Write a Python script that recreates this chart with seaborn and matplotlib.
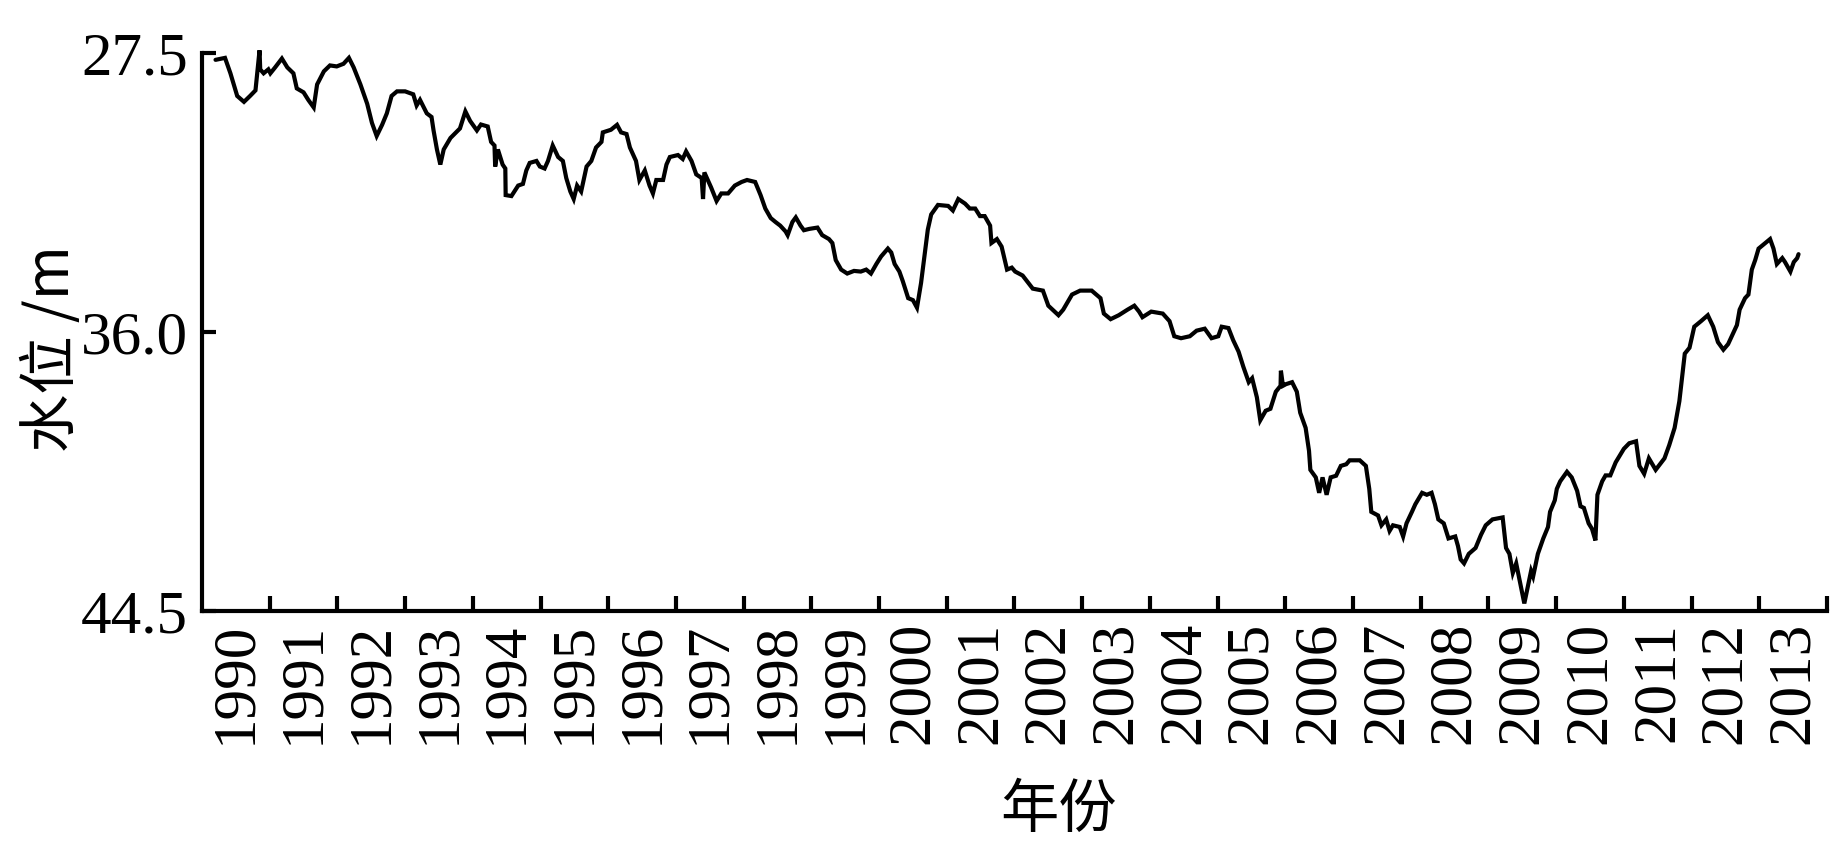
import matplotlib
matplotlib.use("Agg")
import matplotlib.pyplot as plt
import seaborn as sns
import pandas as pd

# ---- data ----
years = [
    1990.20, 1990.34, 1990.42, 1990.52, 1990.62, 1990.71, 1990.79, 1990.81, 1990.85, 1990.86,
    1990.91, 1990.98, 1991.01, 1991.08, 1991.18, 1991.26, 1991.35, 1991.40, 1991.50, 1991.57,
    1991.65, 1991.70, 1991.80, 1991.89, 1991.99, 1992.09, 1992.17, 1992.24, 1992.34, 1992.44,
    1992.51, 1992.58, 1992.66, 1992.73, 1992.80, 1992.88, 1993.00, 1993.12, 1993.17, 1993.22,
    1993.32, 1993.39, 1993.42, 1993.47, 1993.52, 1993.57, 1993.67, 1993.81, 1993.89, 1993.96,
    1994.06, 1994.12, 1994.22, 1994.27, 1994.32, 1994.33, 1994.37, 1994.44, 1994.48, 1994.485,
    1994.57, 1994.67, 1994.74, 1994.79, 1994.84, 1994.94, 1994.99, 1995.06, 1995.11, 1995.18,
    1995.26, 1995.33, 1995.38, 1995.44, 1995.49, 1995.54, 1995.60, 1995.68, 1995.75, 1995.82,
    1995.90, 1995.92, 1996.04, 1996.13, 1996.19, 1996.27, 1996.32, 1996.41, 1996.46, 1996.54,
    1996.61, 1996.66, 1996.71, 1996.81, 1996.86, 1996.91, 1997.03, 1997.10, 1997.15, 1997.23,
    1997.30, 1997.38, 1997.40, 1997.42, 1997.52, 1997.60, 1997.67, 1997.77, 1997.87, 1997.97,
    1998.05, 1998.17, 1998.25, 1998.32, 1998.40, 1998.47, 1998.54, 1998.62, 1998.65, 1998.72,
    1998.77, 1998.84, 1998.89, 1998.97, 1999.09, 1999.16, 1999.26, 1999.31, 1999.36, 1999.44,
    1999.53, 1999.63, 1999.73, 1999.81, 1999.88, 1999.96, 2000.03, 2000.13, 2000.18, 2000.23,
    2000.30, 2000.35, 2000.43, 2000.50, 2000.56, 2000.62, 2000.67, 2000.72, 2000.77, 2000.87,
    2001.02, 2001.09, 2001.17, 2001.27, 2001.34, 2001.42, 2001.49, 2001.56, 2001.64, 2001.66,
    2001.74, 2001.81, 2001.89, 2001.96, 2002.01, 2002.12, 2002.27, 2002.42, 2002.50, 2002.65,
    2002.72, 2002.85, 2002.97, 2003.14, 2003.27, 2003.32, 2003.42, 2003.54, 2003.67, 2003.77,
    2003.84, 2003.89, 2004.02, 2004.19, 2004.29, 2004.36, 2004.46, 2004.59, 2004.69, 2004.81,
    2004.91, 2005.01, 2005.06, 2005.16, 2005.23, 2005.31, 2005.38, 2005.46, 2005.51, 2005.58,
    2005.63, 2005.71, 2005.78, 2005.86, 2005.93, 2005.935, 2005.965, 2006.01, 2006.10, 2006.17,
    2006.22, 2006.30, 2006.35, 2006.37, 2006.45, 2006.50, 2006.55, 2006.61, 2006.67, 2006.75,
    2006.82, 2006.90, 2006.95, 2007.10, 2007.19, 2007.24, 2007.27, 2007.37, 2007.42, 2007.49,
    2007.54, 2007.59, 2007.69, 2007.74, 2007.79, 2007.87, 2007.92, 2008.02, 2008.09, 2008.16,
    2008.21, 2008.26, 2008.34, 2008.41, 2008.51, 2008.55, 2008.59, 2008.64, 2008.71, 2008.81,
    2008.89, 2008.96, 2009.06, 2009.21, 2009.26, 2009.31, 2009.36, 2009.41, 2009.53, 2009.63,
    2009.66, 2009.73, 2009.81, 2009.88, 2009.91, 2009.98, 2010.01, 2010.06, 2010.16, 2010.23,
    2010.31, 2010.36, 2010.41, 2010.48, 2010.53, 2010.58, 2010.61, 2010.68, 2010.73, 2010.80,
    2010.88, 2011.00, 2011.08, 2011.18, 2011.23, 2011.30, 2011.37, 2011.47, 2011.60, 2011.67,
    2011.75, 2011.82, 2011.90, 2011.97, 2012.04, 2012.14, 2012.24, 2012.32, 2012.39, 2012.47,
    2012.54, 2012.67, 2012.71, 2012.79, 2012.84, 2012.89, 2012.94, 2012.99, 2013.09, 2013.16,
    2013.21, 2013.26, 2013.34, 2013.38, 2013.46, 2013.51, 2013.56, 2013.58,
]
levels = [
    27.71, 27.65, 28.12, 28.81, 28.99, 28.81, 28.64, 28.23, 27.42, 28.00,
    28.12, 28.00, 28.12, 27.94, 27.67, 27.94, 28.12, 28.58, 28.70, 28.93,
    29.16, 28.46, 28.06, 27.88, 27.91, 27.83, 27.65, 27.94, 28.46, 29.05,
    29.63, 30.03, 29.69, 29.34, 28.81, 28.67, 28.67, 28.76, 29.10, 28.93,
    29.34, 29.45, 29.86, 30.44, 30.90, 30.44, 30.09, 29.80, 29.28, 29.57,
    29.86, 29.68, 29.74, 30.21, 30.32, 30.96, 30.44, 30.90, 31.02, 31.83,
    31.86, 31.54, 31.49, 31.08, 30.85, 30.79, 30.96, 31.02, 30.79, 30.32,
    30.67, 30.79, 31.31, 31.72, 31.95, 31.54, 31.72, 30.96, 30.79, 30.38,
    30.21, 29.92, 29.84, 29.69, 29.92, 29.97, 30.38, 30.79, 31.37, 31.08,
    31.54, 31.78, 31.37, 31.37, 30.90, 30.67, 30.61, 30.73, 30.50, 30.79,
    31.20, 31.31, 31.95, 31.14, 31.60, 32.01, 31.78, 31.78, 31.54, 31.43,
    31.37, 31.43, 31.83, 32.24, 32.53, 32.65, 32.76, 32.94, 33.05, 32.65,
    32.51, 32.76, 32.90, 32.86, 32.82, 33.05, 33.17, 33.29, 33.81, 34.10,
    34.22, 34.14, 34.16, 34.10, 34.22, 33.93, 33.70, 33.46, 33.58, 33.93,
    34.16, 34.45, 34.97, 35.03, 35.26, 34.51, 33.70, 32.88, 32.42, 32.13,
    32.16, 32.30, 31.95, 32.09, 32.24, 32.24, 32.47, 32.47, 32.76, 33.29,
    33.17, 33.40, 34.10, 34.04, 34.16, 34.28, 34.68, 34.74, 35.20, 35.49,
    35.32, 34.86, 34.74, 34.74, 34.97, 35.44, 35.61, 35.49, 35.32, 35.20,
    35.38, 35.55, 35.38, 35.44, 35.67, 36.13, 36.19, 36.13, 35.96, 35.90,
    36.19, 36.13, 35.84, 35.88, 36.25, 36.60, 37.06, 37.53, 37.41, 37.99,
    38.69, 38.40, 38.34, 37.82, 37.64, 37.18, 37.64, 37.59, 37.53, 37.82,
    38.46, 38.92, 39.62, 40.20, 40.43, 40.90, 40.43, 40.96, 40.43, 40.38,
    40.08, 40.03, 39.91, 39.91, 40.08, 40.78, 41.48, 41.59, 41.89, 41.71,
    42.06, 41.89, 41.94, 42.23, 41.83, 41.48, 41.25, 40.90, 40.96, 40.90,
    41.25, 41.71, 41.83, 42.29, 42.23, 42.52, 42.93, 43.05, 42.76, 42.58,
    42.18, 41.89, 41.71, 41.65, 42.58, 42.76, 43.34, 43.05, 44.27, 43.28,
    43.45, 42.76, 42.29, 41.94, 41.48, 41.13, 40.78, 40.55, 40.26, 40.43,
    40.84, 41.31, 41.36, 41.83, 42.00, 42.35, 40.96, 40.55, 40.37, 40.37,
    39.97, 39.56, 39.39, 39.33, 40.08, 40.32, 39.85, 40.20, 39.85, 39.45,
    38.92, 38.11, 36.66, 36.48, 35.84, 35.67, 35.49, 35.84, 36.31, 36.54,
    36.37, 35.79, 35.32, 34.97, 34.86, 34.10, 33.81, 33.46, 33.29, 33.17,
    33.46, 33.93, 33.75, 33.87, 34.16, 33.87, 33.75, 33.63,
]
year_labels = [str(y) for y in range(1990, 2014)]
y_ticks = [27.5, 36.0, 44.5]
y_tick_labels = ["27.5", "36.0", "44.5"]
x_title = "年份"
y_title = "水位 /m"

# ---- style ----
sns.set_style("ticks")
plt.rcParams["font.family"] = ["Liberation Serif", "Noto Sans CJK SC", "DejaVu Sans"]
plt.rcParams["axes.unicode_minus"] = False
plt.rcParams["text.color"] = "black"
plt.rcParams["axes.labelcolor"] = "black"
plt.rcParams["xtick.color"] = "black"
plt.rcParams["ytick.color"] = "black"
plt.rcParams["axes.edgecolor"] = "black"

fig = plt.figure(figsize=(18.43, 8.5), dpi=100)
ax = fig.add_axes([0.1096, 0.2812, 0.8817, 0.6565])

df = pd.DataFrame({"year": years, "level": levels})
sns.lineplot(data=df, x="year", y="level", ax=ax, color="black",
             linewidth=3.0, estimator=None, sort=False)
for ln in ax.lines:
    ln.set_clip_on(False)
    ln.set_solid_joinstyle("miter")

ax.set_xlim(1990, 2014)
ax.set_ylim(44.5, 27.5)

# major ticks at year boundaries (no labels), labels centred in each year
ax.set_xticks(list(range(1991, 2015)))
ax.set_xticklabels([])
ax.set_xticks([int(y) + 0.5 for y in year_labels], minor=True)
ax.set_xticklabels(year_labels, minor=True, rotation=90, fontsize=44,
                   family=["Liberation Serif"], color="black")
ax.tick_params(axis="x", which="major", direction="in", length=11, width=3.0,
               color="black")
ax.tick_params(axis="x", which="minor", length=0, pad=8, labelcolor="black")

ax.set_yticks(y_ticks)
ax.set_yticklabels(y_tick_labels, fontsize=44, family=["Liberation Serif"],
                   color="black")
ax.tick_params(axis="y", direction="in", length=10, width=3.0, pad=10,
               color="black", labelcolor="black")

sns.despine(ax=ax)
for side in ["left", "bottom"]:
    ax.spines[side].set_linewidth(3.0)
    ax.spines[side].set_color("black")

ax.set_xlabel(x_title, fontsize=42, va="center", color="black",
              family=["Noto Sans CJK SC", "Liberation Serif"])
ax.xaxis.set_label_coords(0.527, -0.358)
ax.set_ylabel(y_title, fontsize=42, va="center", color="black",
              family=["Noto Sans CJK SC", "Liberation Serif"])
ax.yaxis.set_label_coords(-0.0917, 0.471)

fig.savefig("out.png", dpi=100, facecolor="white")
